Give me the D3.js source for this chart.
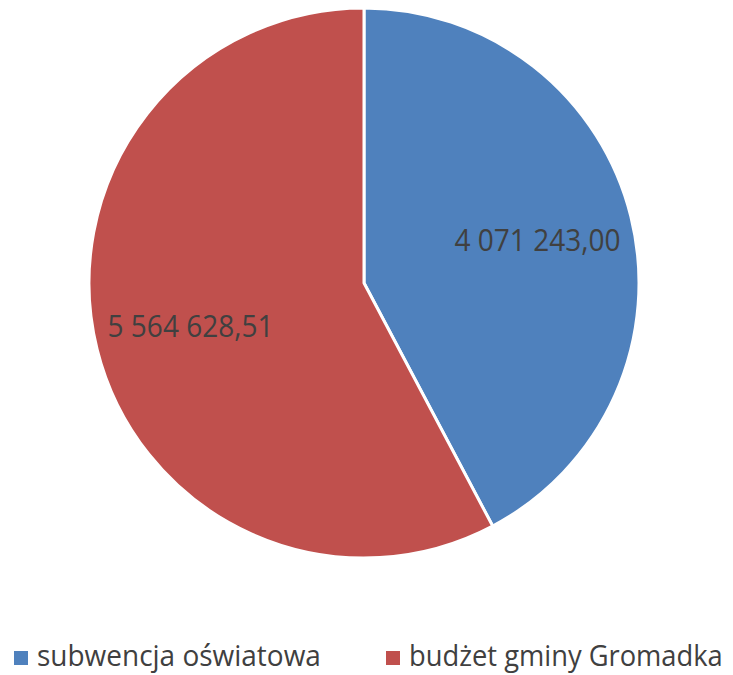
<!DOCTYPE html>
<html>
<head>
<meta charset="utf-8">
<script src="https://cdn.jsdelivr.net/npm/d3@7"></script>
<style>
  body { margin: 0; background: #fff; }
  svg { display: block; font-family: "Open Sans", sans-serif; }
</style>
</head>
<body>
<div id="chart"></div>
<script>
const categories = ['subwencja oświatowa', 'budżet gminy Gromadka'];
const values = [4071243.00, 5564628.51];
const valueLabels = ['4 071 243,00', '5 564 628,51'];
const colors = ['#4F81BD', '#C0504D'];

const width = 733;
const height = 675;
const cx = 364;
const cy = 283;
const radius = 275;

const svg = d3.select('#chart')
  .append('svg')
  .attr('width', width)
  .attr('height', height);

const data = categories.map((c, i) => ({ name: c, value: values[i], label: valueLabels[i], color: colors[i] }));

// squeeze a text horizontally so it takes the given width (Calibri is narrow)
const fitWidth = (sel, w, anchorMiddle) => {
  sel.each(function (d, i) {
    const t = d3.select(this);
    const x = +t.attr('x');
    const y = +t.attr('y');
    const target = typeof w === 'function' ? w(d, i) : w;
    const natural = this.getComputedTextLength();
    const sx = target / natural;
    t.attr('x', 0).attr('y', 0)
      .attr('transform', `translate(${x},${y}) scale(${sx},1)`);
  });
};

const pie = d3.pie()
  .value(d => d.value)
  .sort(null);

const arcs = pie(data);

const arc = d3.arc()
  .innerRadius(0)
  .outerRadius(radius);

const labelArc = d3.arc()
  .innerRadius(radius * 0.65)
  .outerRadius(radius * 0.65);

const g = svg.append('g')
  .attr('transform', `translate(${cx},${cy})`);

g.selectAll('path')
  .data(arcs)
  .enter().append('path')
    .attr('d', arc)
    .attr('fill', d => d.data.color)
    .attr('stroke', '#fff')
    .attr('stroke-width', 3)
    .attr('stroke-linejoin', 'round');

g.selectAll('text.val')
  .data(arcs)
  .enter().append('text')
    .attr('class', 'val')
    .attr('x', d => labelArc.centroid(d)[0])
    .attr('y', d => labelArc.centroid(d)[1] + 11)
    .attr('text-anchor', 'middle')
    .attr('font-size', 31)
    .attr('fill', '#404040')
    .text(d => d.data.label)
    .call(fitWidth, 166);

// legend
const legendX = [14, 386];
const legendW = [284, 314];

const legend = svg.append('g');

legend.selectAll('rect')
  .data(data)
  .enter().append('rect')
    .attr('x', (d, i) => legendX[i])
    .attr('y', 651)
    .attr('width', 14)
    .attr('height', 14)
    .attr('fill', d => d.color);

legend.selectAll('text')
  .data(data)
  .enter().append('text')
    .attr('x', (d, i) => legendX[i] + 23)
    .attr('y', 666)
    .attr('font-size', 29)
    .attr('fill', '#404040')
    .text(d => d.name)
    .call(fitWidth, (d, i) => legendW[i]);
</script>
</body>
</html>
